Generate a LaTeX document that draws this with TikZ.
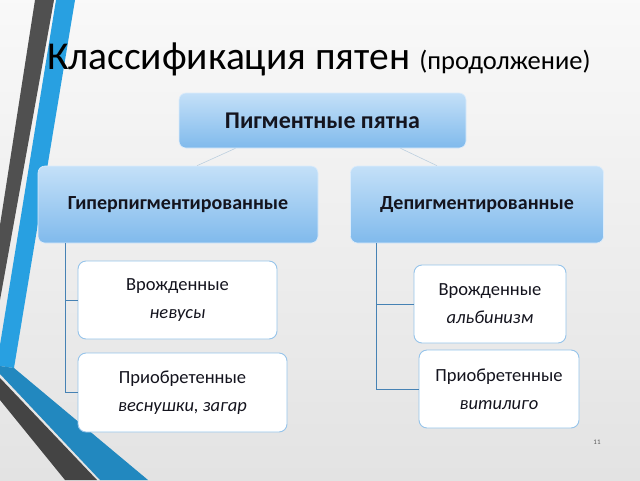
\documentclass[tikz,border=0pt]{standalone}
\usepackage{fontspec}
\setmainfont{Carlito}
\usetikzlibrary{positioning}
\definecolor{stripegray}{RGB}{80,80,80}
\definecolor{stripeblue}{RGB}{40,160,225}
\definecolor{boxtop}{RGB}{196,224,248}
\definecolor{boxbot}{RGB}{128,186,236}
\definecolor{boxline}{RGB}{150,196,234}
\definecolor{linkline}{RGB}{70,130,180}
\definecolor{textdark}{RGB}{20,20,30}
\tikzset{
    groupbox/.style={rectangle, rounded corners=7pt, top color=boxtop, bottom color=boxbot,
        draw=boxtop!60!white, line width=0.6pt, text=textdark, font=\bfseries\fontsize{20}{24}\selectfont,
        align=center, inner sep=2pt}, % верхние блоки
    itembox/.style={rectangle, rounded corners=8pt, fill=white, draw=boxline, line width=0.9pt,
        text=textdark, font=\fontsize{18.5}{28}\selectfont, align=center, inner sep=2pt}, % нижние блоки
    tree link/.style={draw=linkline, line width=1pt},
    top link/.style={draw=gray!30!boxline!60, line width=0.6pt}
}

\begin{document}
\begin{tikzpicture}[x=1pt, y=-1pt]
          % --- фон и полосы ---
          \useasboundingbox (0,0) rectangle (640,480);
          \shade[top color=gray!5, bottom color=gray!22] (0,0) rectangle (640,480);
          \fill[stripegray] (35,0) -- (54,0) -- (0,300) -- (0,225) -- cycle;
          \fill[stripeblue] (56,0) -- (75,0) -- (14,368) -- (0,366) -- (0,345) -- cycle;
          \fill[stripeblue!85!black] (0,366) -- (14,368) -- (148,480) -- (100,480) -- (0,374) -- cycle;
          \fill[stripegray!85!black] (0,378) -- (97,480) -- (65,480) -- (0,400) -- cycle;

          % --- заголовок ---
          \node[anchor=base west, inner sep=0pt] (title) at (47,69)
              {\fontsize{39.5}{44}\selectfont Классификация пятен\ \fontsize{26.5}{30}\selectfont(продолжение)};

          % --- блоки ---
          \node[groupbox, minimum width=287, minimum height=55, font=\bfseries\fontsize{24}{28}\selectfont] (pigm) at (322.5,120.5) {Пигментные пятна};
          \node[groupbox, minimum width=280, minimum height=77] (hyper) at (178,204.5) {Гиперпигментированные};
          \node[groupbox, minimum width=253, minimum height=77] (depig) at (477,204.5) {Депигментированные};

          \node[itembox, minimum width=199, minimum height=78] (nevus) at (177.5,300) {Врожденные\\\textit{невусы}};
          \node[itembox, minimum width=209, minimum height=79] (freck) at (182.5,392.5) {Приобретенные\\\textit{веснушки, загар}};
          \node[itembox, minimum width=152, minimum height=78] (albin) at (490,304) {Врожденные\\\textit{альбинизм}};
          \node[itembox, minimum width=160, minimum height=78] (vitil) at (499,389) {Приобретенные\\\textit{витилиго}};

          % --- связи ---
          \draw[top link] ([xshift=-87]pigm.south) -- ([xshift=19]hyper.north);
          \draw[top link] ([xshift=78]pigm.south) -- ([xshift=-40]depig.north);

          \draw[tree link] ([xshift=28]hyper.south west) |- (freck.west);
          \draw[tree link] ([xshift=28]hyper.south west) |- (nevus.west);
          \draw[tree link] ([xshift=26]depig.south west) |- (vitil.west);
          \draw[tree link] ([xshift=26]depig.south west) |- (albin.west);

          % --- номер слайда ---
          \node[text=gray!70!black, font=\fontsize{7}{8}\selectfont] (pagenum) at (597,442) {11};

      \end{tikzpicture}
\end{document}
